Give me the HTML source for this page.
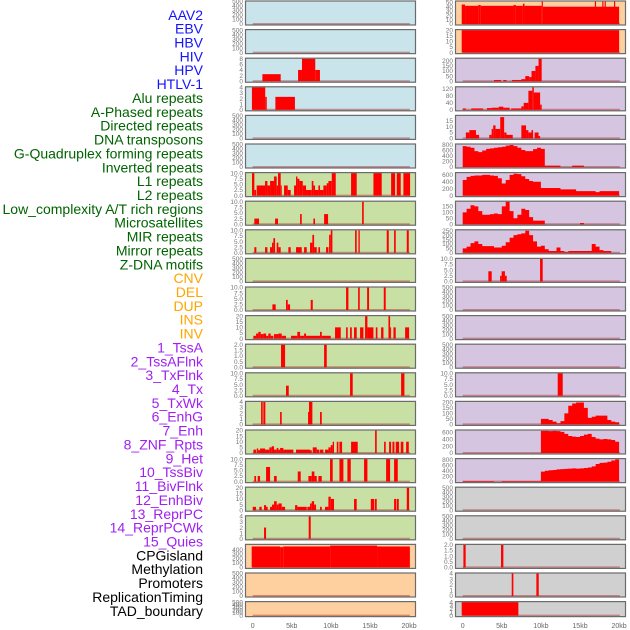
<!DOCTYPE html>
<html><head><meta charset="utf-8">
<style>
html,body{margin:0;padding:0;background:#fff;}
svg{display:block;font-family:"Liberation Sans",sans-serif;}
</style></head>
<body>
<svg id="chart" width="630" height="630" viewBox="0 0 630 630" xmlns="http://www.w3.org/2000/svg"></svg>
<script>
// ---- data (kb segments [start,end,value]) ----
const labelNames = ["AAV2","EBV","HBV","HIV","HPV","HTLV-1","Alu repeats","A-Phased repeats","Directed repeats","DNA transposons","G-Quadruplex forming repeats","Inverted repeats","L1 repeats","L2 repeats","Low_complexity A/T rich regions","Microsatellites","MIR repeats","Mirror repeats","Z-DNA motifs","CNV","DEL","DUP","INS","INV","1_TssA","2_TssAFlnk","3_TxFlnk","4_Tx","5_TxWk","6_EnhG","7_Enh","8_ZNF_Rpts","9_Het","10_TssBiv","11_BivFlnk","12_EnhBiv","13_ReprPC","14_ReprPCWk","15_Quies","CPGisland","Methylation","Promoters","ReplicationTiming","TAD_boundary"];
const labelGroups = [0,0,0,0,0,0,1,1,1,1,1,1,1,1,1,1,1,1,1,2,2,2,2,2,3,3,3,3,3,3,3,3,3,3,3,3,3,3,3,4,4,4,4,4];
const xTickLabels = ["0","5kb","10kb","15kb","20kb"];
const xTickValues = [0,5,10,15,20];

const T500 = ["0","100","200","300","400","500"];
const T10 = ["0.0","2.5","5.0","7.5","10.0"];
const T20 = ["0","5","10","15","20"];
const T4 = ["0","1","2","3","4"];
const T2 = ["0.0","0.5","1.0","1.5","2.0"];

const L03 = [[1.24,3.58,2.5],[5.8,6.3,4],[6.3,8.0,8],[8.0,8.6,4]];
const L04 = [[-0.1,1.6,4],[1.6,1.8,2.3],[2.9,5.4,2.3]];
const L07 = [[-0.09,0.21,10],[0.21,0.43,2.5],[0.51,1.58,4.5],[1.58,1.88,6.5],[1.88,2.22,4.5],[2.22,2.73,6.5],[2.73,3.07,8.5],[3.07,3.24,4.5],[3.24,3.58,10],[3.58,3.71,4.5],[4.01,4.48,4.5],[4.48,4.86,2.5],[5.29,5.54,4.5],[5.54,5.71,8.5],[5.71,5.97,7.5],[5.97,6.40,6.5],[6.40,6.82,4.5],[6.82,7.55,2.5],[7.55,7.76,6.5],[7.76,7.97,4.5],[7.97,8.40,2.5],[8.40,8.61,4.5],[8.61,9.04,2.5],[9.04,9.47,4.5],[9.47,9.68,5.5],[9.68,10.11,6.5],[10.11,10.62,10],[12.58,13.30,10],[15.44,16.50,10],[17.70,18.21,10],[18.42,18.93,10],[19.27,20.13,10]];
const L08 = [[0.21,0.81,2.5],[2.86,3.24,2.5],[6.06,6.27,4.5],[7.76,7.97,2.5],[9.13,9.64,4.5],[13.99,14.2,10]];
const L09 = [[0.21,0.47,2.5],[1.58,1.88,2.5],[2.22,2.47,2.5],[2.47,2.64,4.5],[2.64,2.86,6.5],[3.07,3.28,4.5],[3.28,3.58,2.5],[4.56,4.86,2.5],[5.54,6.27,2.5],[6.57,6.91,2.5],[7.33,7.63,4.5],[7.63,7.85,8],[7.85,8.19,2.5],[8.40,8.61,2.5],[9.38,9.68,2.5],[9.77,9.98,8],[9.98,10.19,10],[13.09,13.3,10],[13.52,13.69,10],[17.14,17.4,10],[18.08,18.29,10],[19.70,19.96,10]];
const L11 = [[2.52,2.94,2.5],[4.26,4.48,4.5],[4.48,4.78,2.5],[7.42,7.68,4.5],[11.94,12.24,10],[13.48,13.69,10],[14.63,14.88,10],[16.76,17.01,10]];
const L12 = [[0.09,0.43,2.5],[0.43,0.72,4.5],[0.72,1.02,6],[1.02,1.36,4],[1.36,1.71,4.5],[1.71,2.0,2.5],[2.0,2.3,4.5],[2.3,2.64,2.5],[2.73,2.99,4],[2.99,3.28,4],[3.28,3.71,4.5],[3.71,4.26,2.5],[4.9,5.71,2.5],[5.71,6.06,6],[6.06,6.57,2.5],[6.57,6.82,4.5],[6.82,8.61,2.5],[8.61,8.83,6],[8.83,9.98,2.5],[10.53,11.26,10],[11.94,12.15,10],[12.45,12.67,10],[12.96,13.3,10],[13.73,14.16,10],[14.37,14.67,20],[14.67,15.44,10],[15.74,15.95,10],[16.42,16.72,10],[17.36,17.57,20],[17.57,17.7,10],[18.0,18.29,10],[19.49,20.0,10]];
const L13 = [[3.62,4.14,2],[9.13,9.47,2]];
const L14 = [[4.26,4.61,4.5],[12.45,12.79,10],[18.98,19.40,10]];
const L15 = [[1.07,1.28,4],[1.36,1.62,4],[3.5,3.71,2.2],[7.08,7.2,2.2],[7.2,7.63,4],[8.61,8.83,2.2]];
const L16 = [[0.09,0.43,3],[0.51,0.72,4],[0.72,0.94,2.5],[0.94,1.58,4],[1.58,2.13,3],[2.13,2.43,5],[2.43,2.73,6],[2.73,3.07,3],[3.07,3.28,4.5],[3.28,3.5,3],[3.5,3.92,4.5],[3.92,4.26,3],[4.26,5.2,3],[5.54,7.33,3],[7.33,7.55,2.5],[7.68,8.19,5],[8.19,8.53,3],[8.61,9.04,3],[9.25,9.68,3],[9.68,9.98,5],[9.98,10.23,7],[10.23,10.4,10],[10.75,10.96,10],[11.09,11.43,10],[12.58,13.43,10],[15.65,15.86,20],[16.8,17.01,10],[17.44,17.7,10],[17.87,18.12,10],[18.29,18.72,10],[18.93,19.27,10],[19.62,19.96,10]];
const L17 = [[0.21,0.43,2.5],[0.64,0.94,2.5],[1.71,2.22,6.5],[2.73,3.07,2.5],[5.76,6.14,4.5],[7.12,7.55,2.5],[7.55,7.89,4.5],[7.89,8.19,2.5],[8.4,8.83,2.5],[9.89,10.23,10],[11.09,11.6,10],[12.11,12.54,10],[14.24,14.67,10],[17.06,17.57,10],[18.08,18.55,10]];
const L18 = [[0,0.43,3],[0.85,1.15,3],[1.45,1.71,4.5],[1.71,1.92,3],[2.22,2.47,3],[2.47,2.73,5],[2.73,3.07,8],[3.07,3.28,5],[3.28,3.71,6],[3.71,4.14,3],[5.42,5.71,4.5],[5.71,6.91,3],[6.99,7.33,3],[7.33,7.55,6],[7.55,7.85,8],[7.85,8.1,5],[8.61,8.83,3],[9.25,9.68,3],[9.68,9.98,12],[9.98,10.4,10],[12.96,13.3,10],[15.1,15.52,10],[15.61,15.86,10],[18.08,18.34,10],[18.42,18.68,10],[19.7,20.0,20]];
const L19 = [[1.45,1.71,2],[7.16,7.42,4]];
const L20 = [[-0.13,3.5,470],[3.5,3.9,455],[3.9,9.9,470],[9.9,15.9,490],[15.9,20.1,470]];

const R01 = [[-0.13,0.3,45],[0.3,2,42],[2,2.3,44],[2.3,6.5,42],[6.5,6.8,44],[6.8,7.7,42],[7.7,7.9,47],[7.9,10.1,42],[10.1,10.25,52],[10.25,20.0,40],[16.9,17.05,52],[17.85,18.0,52],[18.15,18.3,52],[19.35,19.5,52]];
const R02 = [[-0.13,20.0,20]];
const R03 = [[4.0,4.9,12],[5.2,5.6,12],[6.3,7.5,12],[7.5,8.0,20],[8.0,8.5,50],[8.5,8.8,40],[8.8,9.3,100],[9.3,9.7,150],[9.7,10.1,220]];
const R04 = [[0,0.4,8],[1.1,2.6,8],[3.1,3.7,10],[3.7,4.6,12],[4.6,5.2,18],[5.2,6.0,12],[6.2,7.5,8],[7.5,7.8,20],[7.8,8.4,40],[8.4,8.9,110],[8.9,9.1,130],[9.1,9.9,100],[9.9,10.1,30]];
const R05 = [[0.4,0.85,5],[0.85,1.7,7],[1.7,2.1,3],[3.4,3.7,3],[3.7,3.9,8],[3.9,4.2,11],[4.2,4.8,8],[4.8,5.3,18],[5.3,5.6,5],[5.6,6.4,3],[7.5,8.1,11],[8.1,8.4,7],[8.4,8.8,5],[8.8,9.0,7],[9.2,9.7,5],[9.7,9.9,2]];
const R06 = [760,740,700,580,540,600,660,680,700,720,740,780,800,760,700,620,580,580,650,700,660,50,50,50,50,0,0,0,50,50,50,0,0,0,0,0,0,0,0,0];
const R07 = [450,540,570,580,580,600,600,580,570,500,350,450,600,630,620,560,480,420,400,400,220,220,220,220,220,180,180,180,180,130,130,130,130,130,100,130,130,130,130,130];
const R08 = [100,130,160,150,110,80,80,85,90,85,150,190,110,50,80,130,120,60,30,30,30,0,0,0,0,0,0,0,0,0,10,0,0,0,0,0,0,0,0,0];
const R09 = [50,70,110,130,100,75,75,75,60,60,80,120,170,200,210,220,250,200,130,70,80,40,20,20,60,20,10,20,20,20,20,20,20,100,70,30,20,20,0,0];
const R10 = [[3.28,3.71,4.5],[4.78,4.98,2.5],[4.98,5.4,4.5],[5.4,5.63,2.5],[9.89,10.23,10]];
const R14 = [[12.15,12.79,10]];
const R15 = [0,0,0,0,0,0,0,0,0,0,0,0,0,0,0,0,0,0,0,0,50,50,40,25,10,30,100,170,190,200,200,150,60,70,80,80,80,40,25,20];
const R16 = [0,0,0,0,0,0,0,0,0,0,0,0,0,0,0,0,0,0,0,0,650,650,640,650,640,620,560,500,480,470,500,540,560,470,420,400,410,400,380,330];
const R17 = [20,20,20,20,20,20,20,20,0,0,20,20,20,20,20,20,20,20,20,20,370,400,420,430,450,460,470,480,490,480,490,500,520,560,650,690,700,730,780,820];
const R20 = [[0.09,0.38,2],[4.9,5.2,2]];
const R21 = [[6.27,6.48,4],[9.42,9.72,4]];
const R22 = [[-0.13,7.12,4]];

const BLUE="#c9e4eb",GREEN="#c9e0a5",ORANGE="#ffd09f",PURPLE="#d5c5e1",GREY="#d0d0d0";
const panels = [
 ["L",0,BLUE,T500,500,[],"seg"],["L",1,BLUE,T500,500,[],"seg"],
 ["L",2,BLUE,["0","2","4","6","8"],8,L03,"seg"],["L",3,BLUE,T4,4,L04,"seg"],
 ["L",4,BLUE,T500,500,[],"seg"],["L",5,BLUE,T500,500,[],"seg"],
 ["L",6,GREEN,T10,10,L07,"seg"],["L",7,GREEN,T10,10,L08,"seg"],["L",8,GREEN,T10,10,L09,"seg"],
 ["L",9,GREEN,T500,500,[],"seg"],["L",10,GREEN,T10,10,L11,"seg"],["L",11,GREEN,T20,20,L12,"seg"],
 ["L",12,GREEN,T2,2,L13,"seg"],["L",13,GREEN,T10,10,L14,"seg"],["L",14,GREEN,T4,4,L15,"seg"],
 ["L",15,GREEN,T20,20,L16,"seg"],["L",16,GREEN,T10,10,L17,"seg"],["L",17,GREEN,T20,20,L18,"seg"],
 ["L",18,GREEN,T4,4,L19,"seg"],["L",19,ORANGE,["0","100","200","300","400"],505,L20,"seg"],
 ["L",20,ORANGE,T500,500,[],"seg"],["L",21,ORANGE,T500,500,[],"seg"],
 ["R",0,ORANGE,["0","10","20","30","40","50"],52,R01,"seg"],["R",1,ORANGE,T20,20,R02,"seg"],
 ["R",2,PURPLE,["0","50","100","150","200"],220,R03,"seg"],["R",3,PURPLE,["0","40","80","120"],130,R04,"seg"],
 ["R",4,PURPLE,["0","5","10","15"],19,R05,"seg"],["R",5,PURPLE,["0","200","400","600","800"],820,R06,"bin"],
 ["R",6,PURPLE,["0","200","400","600"],650,R07,"bin"],["R",7,PURPLE,["0","50","100","150"],190,R08,"bin"],
 ["R",8,PURPLE,["0","50","100","150","200","250"],255,R09,"bin"],["R",9,PURPLE,T10,10,R10,"seg"],
 ["R",10,PURPLE,T500,500,[],"seg"],["R",11,PURPLE,T500,500,[],"seg"],["R",12,PURPLE,T500,500,[],"seg"],
 ["R",13,PURPLE,T10,10,R14,"seg"],["R",14,PURPLE,["0","50","100","150","200"],205,R15,"bin"],
 ["R",15,PURPLE,["0","200","400","600"],660,R16,"bin"],["R",16,PURPLE,["0","200","400","600","800"],830,R17,"bin"],
 ["R",17,GREY,T500,500,[],"seg"],["R",18,GREY,T500,500,[],"seg"],
 ["R",19,GREY,T2,2,R20,"seg"],["R",20,GREY,T4,4,R21,"seg"],["R",21,GREY,T4,4,R22,"seg"]
];

const NS="http://www.w3.org/2000/svg";
const svg=document.getElementById("chart");
function mk(tag,attrs,parent){const e=document.createElementNS(NS,tag);for(const k in attrs)e.setAttribute(k,attrs[k]);(parent||svg).appendChild(e);return e;}

const PX={L:[245,416],R:[455,626]};
const X0={L:252.7,R:462.7};
const KB=7.82;
function xScale(side,kb){return X0[side]+kb*KB;}
function rowTop(r){return 0.5+r*28.6;}
function rowH(r){return r===21?16:25;}

const groupColors=["#1414ff","#006400","#ffa500","#a020f0","#000000"];
labelNames.forEach((name,i)=>{
  const t=mk("text",{x:203,y:15+i*13.86+4.8,"text-anchor":"end","font-size":"14",fill:groupColors[labelGroups[i]]});
  t.textContent=name;
  
  
});

panels.forEach(p=>{
  const [side,row,bg,ticks,ymax,data,kind]=p;
  const g=mk("g",{});
  
  
  const top=rowTop(row),h=rowH(row),[x1,x2]=PX[side];
  const bottom=top+h;
  const y0=bottom-1.5, y1=top+1;
  const yS=v=>y0-(v/ymax)*(y0-y1);
  mk("rect",{x:x1,y:top,width:x2-x1,height:h,fill:bg},g);
  mk("line",{x1:xScale(side,0),x2:xScale(side,20.1),y1:y0,y2:y0,stroke:"rgba(170,40,40,0.45)","stroke-width":2},g);
  if(kind==="seg"){
    data.forEach(d=>{
      const xa=Math.max(xScale(side,d[0]),x1+1),xb=xScale(side,d[1]);
      const r=mk("rect",{x:xa,y:yS(d[2]),width:Math.max(1,xb-xa),height:y0-yS(d[2]),fill:"#ff0000"},g);
      
      
    });
  } else {
    let dstr="M"+xScale(side,0)+","+y0;
    data.forEach((v,i)=>{
      dstr+=" L"+xScale(side,i*0.5)+","+yS(v)+" L"+xScale(side,(i+1)*0.5)+","+yS(v);
    });
    dstr+=" L"+xScale(side,data.length*0.5)+","+y0+" Z";
    const pa=mk("path",{d:dstr,fill:"#ff0000"},g);
    
    
  }
  mk("rect",{x:x1+0.5,y:top+0.5,width:x2-x1-1,height:h-1,fill:"none",stroke:"#6b6b6b","stroke-width":1.2},g);
  ticks.forEach(t=>{
    const v=parseFloat(t);
    const tt=mk("text",{x:x1-2,y:yS(v)+2.2,"text-anchor":"end","font-size":"6.5",fill:"#777"},g);
    tt.textContent=t;
    
    
  });
});

["L","R"].forEach(side=>{
  xTickValues.forEach((v,i)=>{
    const t=mk("text",{x:xScale(side,v),y:628,"text-anchor":"middle","font-size":"7",fill:"#666"});
    t.textContent=xTickLabels[i];
    
    
  });
});
</script>
</body></html>
